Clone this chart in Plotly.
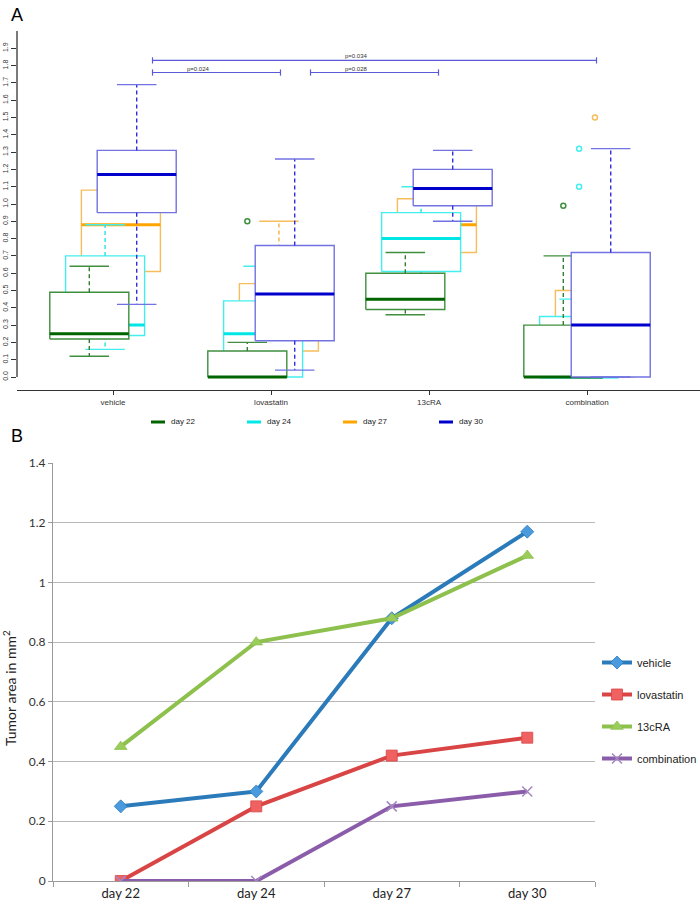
import plotly.graph_objects as go

# ---------------- data : panel A (box statistics, per day, per group) ----------------
groups = ["vehicle", "lovastatin", "13cRA", "combination"]
days = ["day 22", "day 24", "day 27", "day 30"]

d22_low = [0.12, 0.00, 0.36, 0.00]
d22_q1 = [0.22, 0.00, 0.39, 0.00]
d22_med = [0.25, 0.00, 0.45, 0.00]
d22_q3 = [0.49, 0.15, 0.60, 0.30]
d22_high = [0.64, 0.20, 0.72, 0.70]
d22_out = [[], [0.90], [], [0.99]]

d24_low = [0.16, 0.00, 0.52, 0.00]
d24_q1 = [0.24, 0.00, 0.61, 0.00]
d24_med = [0.30, 0.25, 0.80, 0.00]
d24_q3 = [0.70, 0.44, 0.95, 0.35]
d24_high = [0.88, 0.64, 1.10, 0.45]
d24_out = [[], [], [], [1.10, 1.32]]

d27_low = [0.45, 0.05, 0.65, 0.00]
d27_q1 = [0.61, 0.15, 0.72, 0.00]
d27_med = [0.88, 0.42, 0.88, 0.25]
d27_q3 = [1.08, 0.54, 1.03, 0.50]
d27_high = [1.20, 0.90, 1.10, 0.50]
d27_out = [[], [], [], [1.50]]

d30_low = [0.42, 0.04, 0.90, 0.00]
d30_q1 = [0.95, 0.21, 0.99, 0.00]
d30_med = [1.17, 0.48, 1.09, 0.30]
d30_q3 = [1.31, 0.76, 1.20, 0.72]
d30_high = [1.69, 1.26, 1.31, 1.32]
d30_out = [[], [], [], []]

# significance brackets (group numbers, 1-based)
p_from = [1, 2, 1]
p_to = [2, 3, 4]
p_level = [1.76, 1.76, 1.83]
p_text = ["p=0.024", "p=0.028", "p=0.034"]

# ---------------- data : panel B (medians over time) ----------------
series_names = ["vehicle", "lovastatin", "13cRA", "combination"]
vehicle_vals = [0.25, 0.30, 0.88, 1.17]
lovastatin_vals = [0.00, 0.25, 0.42, 0.48]
cra_vals = [0.45, 0.80, 0.88, 1.09]
combination_vals = [0.00, 0.00, 0.25, 0.30]

# ---------------- styles ----------------
W, H = 700, 902
FA = "Liberation Sans, Arial, sans-serif"
FB = "Lato, Liberation Sans, sans-serif"

day_stats = [
    (d22_low, d22_q1, d22_med, d22_q3, d22_high, d22_out),
    (d24_low, d24_q1, d24_med, d24_q3, d24_high, d24_out),
    (d27_low, d27_q1, d27_med, d27_q3, d27_high, d27_out),
    (d30_low, d30_q1, d30_med, d30_q3, d30_high, d30_out),
]
outline_col = ["#3f8f3f", "#44eeee", "#f5bd5c", "#7272e2"]
median_col = ["#006400", "#00e6e6", "#ffa500", "#0000cd"]
whisk_col = ["#2f7f2f", "#22e6e6", "#f5b040", "#3030d8"]
legend_col = ["#006400", "#00e8e8", "#ffa500", "#0000cd"]
offsets = [-0.15, -0.05, 0.05, 0.15]
draw_order = [2, 1, 0, 3]
BW = 0.25   # half box width
CW = 0.125  # half staple width
DASH = "4px,3px"

fig = go.Figure()

for d in draw_order:
    low, q1, med, q3, high, outs = day_stats[d]
    bx, by, mx, my, wx, wy, cx, cy, ox, oy = [], [], [], [], [], [], [], [], [], []
    for g in range(len(groups)):
        c = g + 1 + offsets[d]
        bx += [c - BW, c + BW, c + BW, c - BW, c - BW, None]
        by += [q1[g], q1[g], q3[g], q3[g], q1[g], None]
        mx += [c - BW, c + BW, None]
        my += [med[g], med[g], None]
        if high[g] > q3[g]:
            wx += [c, c, None]
            wy += [q3[g], high[g], None]
        if low[g] < q1[g]:
            wx += [c, c, None]
            wy += [q1[g], low[g], None]
        cx += [c - CW, c + CW, None, c - CW, c + CW, None]
        cy += [high[g], high[g], None, low[g], low[g], None]
        for v in outs[g]:
            ox.append(c)
            oy.append(v)
    fig.add_trace(go.Scatter(x=bx, y=by, mode="lines", fill="toself", fillcolor="white",
                             line=dict(color=outline_col[d], width=1.4),
                             showlegend=False, hoverinfo="skip", xaxis="x", yaxis="y"))
    fig.add_trace(go.Scatter(x=wx, y=wy, mode="lines",
                             line=dict(color=whisk_col[d], width=1.4, dash=DASH),
                             showlegend=False, hoverinfo="skip", xaxis="x", yaxis="y"))
    fig.add_trace(go.Scatter(x=cx, y=cy, mode="lines",
                             line=dict(color=outline_col[d], width=1.4),
                             showlegend=False, hoverinfo="skip", xaxis="x", yaxis="y"))
    fig.add_trace(go.Scatter(x=mx, y=my, mode="lines",
                             line=dict(color=median_col[d], width=3),
                             showlegend=False, hoverinfo="skip", xaxis="x", yaxis="y"))
    if ox:
        fig.add_trace(go.Scatter(x=ox, y=oy, mode="markers",
                                 marker=dict(symbol="circle-open", size=5, color=outline_col[d],
                                             line=dict(width=1.5, color=outline_col[d])),
                                 showlegend=False, hoverinfo="skip", xaxis="x", yaxis="y"))

# significance brackets
TK = 0.018
for a, b, lv, t in zip(p_from, p_to, p_level, p_text):
    x0, x1 = a + 0.25, b + 0.06
    fig.add_trace(go.Scatter(x=[x0, x1, None, x0, x0, None, x1, x1],
                             y=[lv, lv, None, lv - TK, lv + TK, None, lv - TK, lv + TK],
                             mode="lines", line=dict(color="#5a5ad8", width=1.2),
                             showlegend=False, hoverinfo="skip", xaxis="x", yaxis="y"))
    fig.add_annotation(x=(a + b) / 2 + 0.04, y=lv, xref="x", yref="y", text=t, showarrow=False,
                       yanchor="bottom", yshift=-1, font=dict(family=FA, size=6, color="#333"))

# ---------------- panel B lines ----------------
b_vals = [vehicle_vals, lovastatin_vals, cra_vals, combination_vals]
line_cols = ["#2b7bba", "#d94545", "#8dc04d", "#8a5caa"]
mk_cols = ["#4a9ade", "#f06262", "#9bcd5c", "#a487c0"]
mk_sym = ["diamond", "square", "triangle-up", "x-thin"]
mk_size = [10, 11, 11, 10]
for i, name in enumerate(series_names):
    mk = dict(symbol=mk_sym[i], size=mk_size[i], color=mk_cols[i],
              line=dict(width=0.8, color=line_cols[i]))
    if mk_sym[i] == "x-thin":
        mk = dict(symbol="x-thin", size=mk_size[i], color=mk_cols[i],
                  line=dict(width=1.5, color=mk_cols[i]))
    fig.add_trace(go.Scatter(x=days, y=b_vals[i], mode="lines+markers", name=name,
                             line=dict(color=line_cols[i], width=4), marker=mk,
                             legendgroup=name, xaxis="x2", yaxis="y2"))

# ---------------- layout ----------------
ya_bot, ya_top = 1 - 390 / H, 1 - 31 / H
yb_bot, yb_top = 1 - 881 / H, 1 - 463 / H
ytv = [i / 10 for i in range(20)]

fig.update_layout(
    width=W, height=H, margin=dict(l=0, r=0, t=0, b=0, autoexpand=False),
    paper_bgcolor="white", plot_bgcolor="white",
    xaxis=dict(domain=[17 / W, 1.0], range=[0.3924, 4.715], tickvals=[1, 2, 3, 4],
               ticktext=groups, ticks="outside", ticklen=4, tickcolor="#333",
               showline=True, linecolor="#333", linewidth=1.3, showgrid=False, zeroline=False,
               tickfont=dict(family=FA, size=8, color="#333"), anchor="y", automargin=False),
    yaxis=dict(domain=[ya_bot, ya_top], range=[-0.075, 2.0], tickvals=ytv,
               ticktext=["%.1f" % v for v in ytv], tickangle=-90, ticks="outside", ticklen=5,
               tickcolor="#333", showline=False, showgrid=False, zeroline=False,
               tickfont=dict(family=FA, size=7, color="#333"), anchor="x", automargin=False),
    xaxis2=dict(domain=[53 / W, 595 / W], type="category", categoryorder="array",
                categoryarray=days, range=[-0.5, 3.5], ticks="outside", tickson="boundaries",
                ticklen=5, tickcolor="#9a9a9a", showline=True, linecolor="#9a9a9a", linewidth=1,
                showgrid=False, zeroline=False, tickfont=dict(family=FB, size=13, color="#222"),
                anchor="y2", automargin=False),
    yaxis2=dict(domain=[yb_bot, yb_top], range=[0, 1.4], dtick=0.2, ticks="outside", ticklen=4,
                tickcolor="#9a9a9a", showline=True, linecolor="#9a9a9a", linewidth=1,
                showgrid=True, gridcolor="#b8b8b8", gridwidth=1, zeroline=False,
                tickfont=dict(family=FB, size=12, color="#333"), anchor="x2", automargin=False),
    legend=dict(x=597 / W, y=1 - 648 / H, xanchor="left", yanchor="top",
                font=dict(family=FA, size=11, color="#222"), tracegroupgap=13,
                bgcolor="rgba(0,0,0,0)"),
    showlegend=True,
)

# y axis line of panel A (R draws it from first to last tick)
fig.add_shape(type="line", xref="paper", yref="y", x0=17 / W, x1=17 / W, y0=0, y1=2.0,
              line=dict(color="#333", width=1.3))

# legend of panel A
leg_x = [151, 247, 343, 439]
for i, lab in enumerate(days):
    fig.add_shape(type="line", xref="paper", yref="paper",
                  x0=leg_x[i] / W, x1=(leg_x[i] + 14) / W, y0=1 - 422 / H, y1=1 - 422 / H,
                  line=dict(color=legend_col[i], width=3))
    fig.add_annotation(x=(leg_x[i] + 18) / W, y=1 - 422 / H, xref="paper", yref="paper",
                       text=lab, showarrow=False, xanchor="left", yanchor="middle",
                       font=dict(family=FA, size=8, color="#222"))

# panel letters and B axis title
fig.add_annotation(x=9 / W, y=1 - 3 / H, xref="paper", yref="paper", text="A", showarrow=False,
                   xanchor="left", yanchor="top", font=dict(family=FA, size=18, color="black"))
fig.add_annotation(x=9 / W, y=1 - 424 / H, xref="paper", yref="paper", text="B", showarrow=False,
                   xanchor="left", yanchor="top", font=dict(family=FA, size=18, color="black"))
fig.add_annotation(x=9 / W, y=1 - 688 / H, xref="paper", yref="paper",
                   text="Tumor area in mm<sup>2</sup>", textangle=-90, showarrow=False,
                   xanchor="center", yanchor="middle",
                   font=dict(family=FB, size=14, color="#222"))

fig.write_html("out.html", config={"displayModeBar": False},
               post_script="document.body.style.margin='0';document.body.style.overflow='hidden';")
